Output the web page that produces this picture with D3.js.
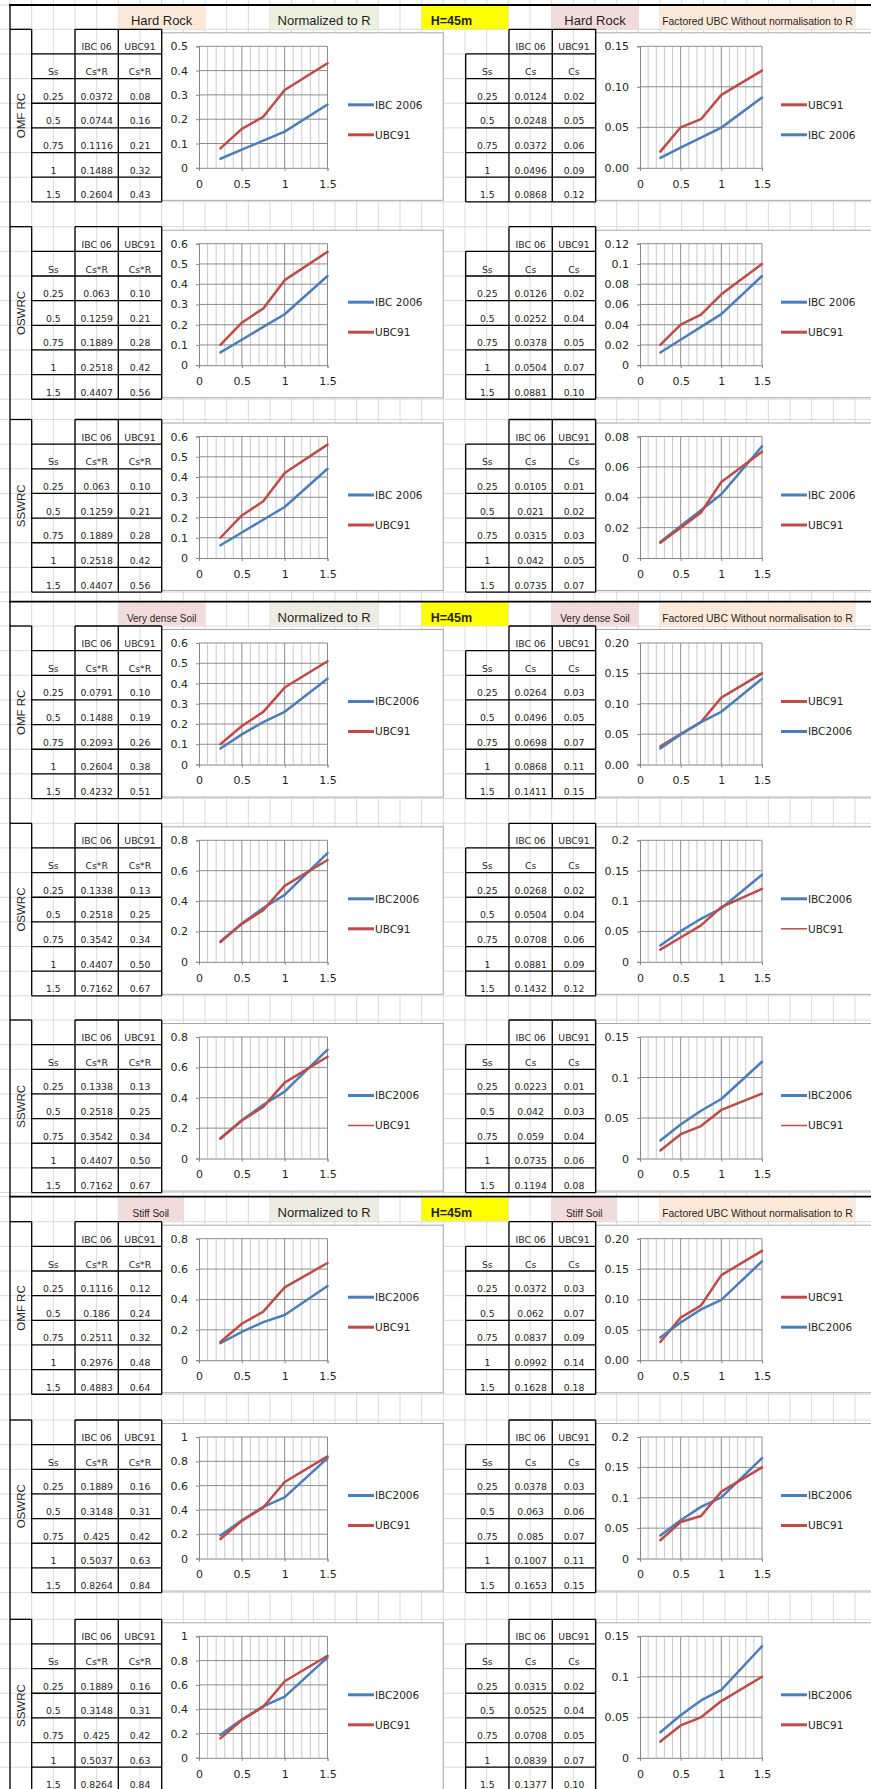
<!DOCTYPE html>
<html>
<head>
<meta charset="utf-8">
<script src="https://cdn.jsdelivr.net/npm/d3@7"></script>
<style>
  body { margin: 0; background: #fff; }
  svg { display: block; }
</style>
</head>
<body>
<svg id="sheet" width="871" height="1789"></svg>
<script>
// ---------------- data ----------------
const ssValues = [0.25, 0.5, 0.75, 1, 1.5];
const soilNames = ["Hard Rock", "Very dense Soil", "Stiff Soil"];
const systemNames = ["OMF RC", "OSWRC", "SSWRC"];
const xTicks = [0, 0.5, 1, 1.5];

// Cs*R (normalised to R), one row per system: OMF RC, OSWRC, SSWRC
const hardRockIbcCsR = [
  [0.0372, 0.0744, 0.1116, 0.1488, 0.2604],
  [0.063, 0.1259, 0.1889, 0.2518, 0.4407],
  [0.063, 0.1259, 0.1889, 0.2518, 0.4407]
];
const hardRockUbcCsR = [
  [0.08, 0.16, 0.21, 0.32, 0.43],
  [0.10, 0.21, 0.28, 0.42, 0.56],
  [0.10, 0.21, 0.28, 0.42, 0.56]
];
const denseSoilIbcCsR = [
  [0.0791, 0.1488, 0.2093, 0.2604, 0.4232],
  [0.1338, 0.2518, 0.3542, 0.4407, 0.7162],
  [0.1338, 0.2518, 0.3542, 0.4407, 0.7162]
];
const denseSoilUbcCsR = [
  [0.10, 0.19, 0.26, 0.38, 0.51],
  [0.13, 0.25, 0.34, 0.50, 0.67],
  [0.13, 0.25, 0.34, 0.50, 0.67]
];
const stiffSoilIbcCsR = [
  [0.1116, 0.186, 0.2511, 0.2976, 0.4883],
  [0.1889, 0.3148, 0.425, 0.5037, 0.8264],
  [0.1889, 0.3148, 0.425, 0.5037, 0.8264]
];
const stiffSoilUbcCsR = [
  [0.12, 0.24, 0.32, 0.48, 0.64],
  [0.16, 0.31, 0.42, 0.63, 0.84],
  [0.16, 0.31, 0.42, 0.63, 0.84]
];

// Cs (factored, without normalisation to R)
const hardRockIbcCs = [
  [0.0124, 0.0248, 0.0372, 0.0496, 0.0868],
  [0.0126, 0.0252, 0.0378, 0.0504, 0.0881],
  [0.0105, 0.021, 0.0315, 0.042, 0.0735]
];
const hardRockUbcCs = [
  [0.02, 0.05, 0.06, 0.09, 0.12],
  [0.02, 0.04, 0.05, 0.07, 0.10],
  [0.01, 0.02, 0.03, 0.05, 0.07]
];
const denseSoilIbcCs = [
  [0.0264, 0.0496, 0.0698, 0.0868, 0.1411],
  [0.0268, 0.0504, 0.0708, 0.0881, 0.1432],
  [0.0223, 0.042, 0.059, 0.0735, 0.1194]
];
const denseSoilUbcCs = [
  [0.03, 0.05, 0.07, 0.11, 0.15],
  [0.02, 0.04, 0.06, 0.09, 0.12],
  [0.01, 0.03, 0.04, 0.06, 0.08]
];
const stiffSoilIbcCs = [
  [0.0372, 0.062, 0.0837, 0.0992, 0.1628],
  [0.0378, 0.063, 0.085, 0.1007, 0.1653],
  [0.0315, 0.0525, 0.0708, 0.0839, 0.1377]
];
const stiffSoilUbcCs = [
  [0.03, 0.07, 0.09, 0.14, 0.18],
  [0.03, 0.06, 0.07, 0.11, 0.15],
  [0.02, 0.04, 0.05, 0.07, 0.10]
];

// y-axis tick labels for each chart
const hardRockCsRTicks = [
  ["0", "0.1", "0.2", "0.3", "0.4", "0.5"],
  ["0", "0.1", "0.2", "0.3", "0.4", "0.5", "0.6"],
  ["0", "0.1", "0.2", "0.3", "0.4", "0.5", "0.6"]
];
const hardRockCsTicks = [
  ["0.00", "0.05", "0.10", "0.15"],
  ["0", "0.02", "0.04", "0.06", "0.08", "0.1", "0.12"],
  ["0", "0.02", "0.04", "0.06", "0.08"]
];
const denseSoilCsRTicks = [
  ["0", "0.1", "0.2", "0.3", "0.4", "0.5", "0.6"],
  ["0", "0.2", "0.4", "0.6", "0.8"],
  ["0", "0.2", "0.4", "0.6", "0.8"]
];
const denseSoilCsTicks = [
  ["0.00", "0.05", "0.10", "0.15", "0.20"],
  ["0", "0.05", "0.1", "0.15", "0.2"],
  ["0", "0.05", "0.1", "0.15"]
];
const stiffSoilCsRTicks = [
  ["0", "0.2", "0.4", "0.6", "0.8"],
  ["0", "0.2", "0.4", "0.6", "0.8", "1"],
  ["0", "0.2", "0.4", "0.6", "0.8", "1"]
];
const stiffSoilCsTicks = [
  ["0.00", "0.05", "0.10", "0.15", "0.20"],
  ["0", "0.05", "0.1", "0.15", "0.2"],
  ["0", "0.05", "0.1", "0.15"]
];

const ibcNames = ["IBC 2006", "IBC2006", "IBC2006"];

// ---------------- layout & styles ----------------
const W = 871, H = 1789;
const colW = 21.667, gridX0 = 10;
const rowH = 24.65;
const sectionTops = [5, 601.7, 1196.7];
const blockTops = [[29.3, 226.7, 419.5], [626, 823.3, 1020], [1221.7, 1420, 1619.3]];
const BLUE = "#4a7ebb", RED = "#be4b48";
const sheetFont = "DejaVu Sans";
const headFont = "Liberation Sans";

const svg = d3.select("#sheet");
svg.append("rect").attr("width", W).attr("height", H).attr("fill", "#fff");

// spreadsheet cell grid
const grid = svg.append("g").attr("stroke", "#dadada").attr("stroke-width", 1);
d3.range(0, 41).forEach(k => {
  const x = gridX0 + k * colW;
  grid.append("line").attr("x1", x).attr("x2", x).attr("y1", 0).attr("y2", H);
});
const rowLines = [];
sectionTops.forEach((t, s) => {
  rowLines.push(t);
  blockTops[s].forEach(bt => d3.range(0, 8).forEach(k => rowLines.push(bt + k * rowH)));
});
rowLines.forEach(y => grid.append("line").attr("x1", 0).attr("x2", W).attr("y1", y).attr("y2", y));

const colX = k => gridX0 + k * colW;

// section header row
function headerCell(t, k0, k1, fill, text, size, weight, align) {
  svg.append("rect").attr("x", colX(k0)).attr("y", t + 0.5).attr("width", colX(k1) - colX(k0))
    .attr("height", rowH - 1).attr("fill", fill);
  const tx = svg.append("text").attr("y", t + 20).attr("font-family", headFont)
    .attr("font-size", size).attr("font-weight", weight || "normal").attr("fill", "#1f1f1f").text(text);
  if (align === "start") tx.attr("x", colX(k0) + 9);
  else tx.attr("x", (colX(k0) + colX(k1)) / 2).attr("text-anchor", "middle");
}

const headerStyles = [
  { soilFill: "#fde9d9", soilEnd: 9, soilSize: 13, normFill: "#ebf1de", rSoilFill: "#f2dcdb", rSoilEnd: 29, rSoilSize: 13 },
  { soilFill: "#f2dcdb", soilEnd: 9, soilSize: 10, normFill: "#eeece1", rSoilFill: "#f2dcdb", rSoilEnd: 29, rSoilSize: 10 },
  { soilFill: "#f2dcdb", soilEnd: 8, soilSize: 10, normFill: "#eeece1", rSoilFill: "#f2dcdb", rSoilEnd: 28, rSoilSize: 10 }
];

sectionTops.forEach((t, s) => {
  const st = headerStyles[s];
  headerCell(t, 5, st.soilEnd, st.soilFill, soilNames[s], st.soilSize);
  headerCell(t, 12, 17, st.normFill, "Normalized to R", 13);
  headerCell(t, 19, 23, "#ffff00", "H=45m", 12.5, "bold", "start");
  headerCell(t, 25, st.rSoilEnd, st.rSoilFill, soilNames[s], st.rSoilSize);
  headerCell(t, 30, 39, "#fde9d9", "Factored UBC Without normalisation to R", 10.4);
});

// ---------------- chart ----------------
function drawChart(opts) {
  const { bt, areaX0, areaX1, px0, px1, ticks, ibc, ubc, ibcName, ubcFirst, lx, thinUbcKey } = opts;
  const blockBottom = bt + 7 * rowH;
  svg.append("rect").attr("x", areaX0).attr("y", bt + 3.5)
    .attr("width", areaX1 - areaX0).attr("height", blockBottom - 1.5 - (bt + 3.5))
    .attr("fill", "#fff").attr("stroke", "#a8a8a8").attr("stroke-width", 1);

  const yMax = +ticks[ticks.length - 1];
  const x = d3.scaleLinear().domain([0, 1.5]).range([px0, px1]);
  const y = d3.scaleLinear().domain([0, yMax]).range([bt + 138.5, bt + 17]);
  const g = svg.append("g");

  // minor vertical grid every 0.1, major every 0.5
  d3.range(1, 16).forEach(i => {
    const v = i / 10;
    const major = i % 5 === 0;
    g.append("line").attr("x1", x(v)).attr("x2", x(v)).attr("y1", y(0)).attr("y2", y(yMax))
      .attr("stroke", major ? "#8c8c8c" : "#c9c9c9").attr("stroke-width", 1);
  });
  ticks.forEach(tk => {
    const v = +tk;
    if (v === 0) return;
    g.append("line").attr("x1", x(0)).attr("x2", x(1.5)).attr("y1", y(v)).attr("y2", y(v))
      .attr("stroke", "#8c8c8c").attr("stroke-width", 1);
  });

  const yAxis = d3.axisLeft(y).tickValues(ticks.map(Number))
    .tickFormat((d, i) => ticks[i]).tickSize(3).tickPadding(8);
  const xAxis = d3.axisBottom(x).tickValues(xTicks).tickFormat(d3.format("")).tickSize(3).tickPadding(9);
  [g.append("g").attr("transform", `translate(${px0},0)`).call(yAxis),
   g.append("g").attr("transform", `translate(0,${y(0)})`).call(xAxis)].forEach(ax => {
    ax.select(".domain").attr("stroke", "#868686");
    ax.selectAll(".tick line").attr("stroke", "#868686");
    ax.selectAll("text").attr("font-family", sheetFont).attr("font-size", 11).attr("fill", "#1f1f1f");
  });

  const series = [
    { name: ibcName, values: ibc, color: BLUE },
    { name: "UBC91", values: ubc, color: RED, thin: thinUbcKey }
  ];
  if (ubcFirst) series.reverse();

  const line = d3.line().x((d, i) => x(ssValues[i])).y(d => y(d));
  series.forEach((s, i) => {
    g.append("path").datum(s.values).attr("d", line).attr("fill", "none")
      .attr("stroke", s.color).attr("stroke-width", 2.5)
      .attr("stroke-linejoin", "round").attr("stroke-linecap", "round");
    const ly = bt + 75.5 + i * 30;
    g.append("line").attr("x1", lx).attr("x2", lx + 26).attr("y1", ly).attr("y2", ly)
      .attr("stroke", s.color).attr("stroke-width", s.thin ? 1.5 : 3);
    g.append("text").attr("x", lx + 27).attr("y", ly).attr("dy", "0.36em")
      .attr("font-family", sheetFont).attr("font-size", 10.5).attr("fill", "#1f1f1f").text(s.name);
  });
}

// ---------------- tables ----------------
function drawTable(bt, cols, ibc, ubc, unit, sysName) {
  const g = svg.append("g");
  const bottom = bt + 7 * rowH;
  const ln = (x1, y1, x2, y2) => g.append("line").attr("x1", x1).attr("y1", y1).attr("x2", x2).attr("y2", y2)
    .attr("stroke", "#000").attr("stroke-width", 1.3);

  ln(cols[1], bt, cols[3], bt);
  [1, 2, 3].forEach(c => ln(cols[c], bt, cols[c], bottom));
  ln(cols[0], sysName ? bt : bt + rowH, cols[0], bottom);
  d3.range(1, 8).forEach(k => ln(cols[0], bt + k * rowH, cols[3], bt + k * rowH));

  if (sysName) {
    ln(gridX0, bt, cols[0], bt);
    g.append("text").attr("transform", `translate(${(gridX0 + cols[0]) / 2 + 4},${bt + 3.5 * rowH}) rotate(-90)`)
      .attr("text-anchor", "middle").attr("font-family", headFont).attr("font-size", 11.5)
      .attr("fill", "#1f1f1f").text(sysName);
  }

  const cx = c => (cols[c] + cols[c + 1]) / 2;
  const cell = (c, r, text) => g.append("text").attr("x", cx(c)).attr("y", bt + (r + 1) * rowH - 3.5)
    .attr("text-anchor", "middle").attr("font-family", sheetFont).attr("font-size", 9.3)
    .attr("fill", "#1f1f1f").text(text);

  cell(1, 0, "IBC 06");
  cell(2, 0, "UBC91");
  cell(0, 1, "Ss");
  cell(1, 1, unit);
  cell(2, 1, unit);
  ssValues.forEach((s, i) => {
    cell(0, i + 2, String(s));
    cell(1, i + 2, String(ibc[i]));
    cell(2, i + 2, ubc[i].toFixed(2));
  });
}

const leftCols = [31.7, 75, 118.3, 161.7];
const rightCols = [465.7, 509, 552.3, 595.7];

const sections = [
  { ibcR: hardRockIbcCsR, ubcR: hardRockUbcCsR, ibc: hardRockIbcCs, ubc: hardRockUbcCs, tR: hardRockCsRTicks, t: hardRockCsTicks },
  { ibcR: denseSoilIbcCsR, ubcR: denseSoilUbcCsR, ibc: denseSoilIbcCs, ubc: denseSoilUbcCs, tR: denseSoilCsRTicks, t: denseSoilCsTicks },
  { ibcR: stiffSoilIbcCsR, ubcR: stiffSoilUbcCsR, ibc: stiffSoilIbcCs, ubc: stiffSoilUbcCs, tR: stiffSoilCsRTicks, t: stiffSoilCsTicks }
];

sections.forEach((sec, s) => {
  blockTops[s].forEach((bt, b) => {
    drawChart({ bt, areaX0: leftCols[3], areaX1: 443.3, px0: 199, px1: 327.5,
      ticks: sec.tR[b], ibc: sec.ibcR[b], ubc: sec.ubcR[b], ibcName: ibcNames[s],
      ubcFirst: false, lx: 348, thinUbcKey: s === 1 && b === 2 });
    drawChart({ bt, areaX0: rightCols[3], areaX1: W + 5, px0: 640, px1: 762,
      ticks: sec.t[b], ibc: sec.ibc[b], ubc: sec.ubc[b], ibcName: ibcNames[s],
      ubcFirst: b === 0, lx: 781, thinUbcKey: s === 1 && b > 0 });
    drawTable(bt, leftCols, sec.ibcR[b], sec.ubcR[b], "Cs*R", systemNames[b]);
    drawTable(bt, rightCols, sec.ibc[b], sec.ubc[b], "Cs", null);
  });
});

// section separators and sheet left border
sectionTops.forEach(t => svg.append("line").attr("x1", gridX0 - 1).attr("x2", W).attr("y1", t).attr("y2", t)
  .attr("stroke", "#000").attr("stroke-width", 1.8));
svg.append("line").attr("x1", gridX0).attr("x2", gridX0).attr("y1", sectionTops[0]).attr("y2", H)
  .attr("stroke", "#000").attr("stroke-width", 1.3);
</script>
</body>
</html>
